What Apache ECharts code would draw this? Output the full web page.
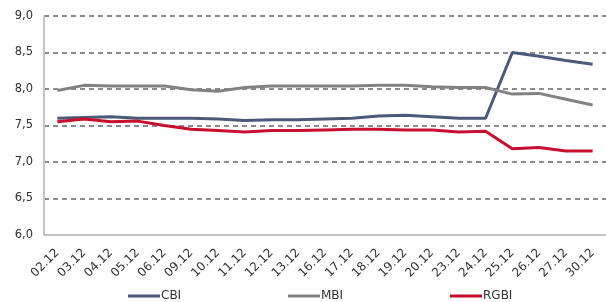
<!DOCTYPE html>
<html>
<head>
<meta charset="utf-8">
<script src="https://cdn.jsdelivr.net/npm/echarts@6/dist/echarts.min.js"></script>
<style>
html, body { margin: 0; padding: 0; background: #fff; }
#chart { width: 606px; height: 302px; }
</style>
</head>
<body>
<div id="chart"></div>
<script>
// даты
var days = ['02.12', '03.12', '04.12', '05.12', '06.12', '09.12', '10.12', '11.12', '12.12', '13.12',
    '16.12', '17.12', '18.12', '19.12', '20.12', '23.12', '24.12', '25.12', '26.12', '27.12', '30.12'];

var cbi = [7.60, 7.61, 7.62, 7.60, 7.60, 7.60, 7.59, 7.57, 7.58, 7.58,
    7.59, 7.60, 7.63, 7.64, 7.62, 7.60, 7.60, 8.50, 8.45, 8.39, 8.34];
var mbi = [7.98, 8.05, 8.04, 8.04, 8.04, 7.99, 7.97, 8.02, 8.04, 8.04,
    8.04, 8.04, 8.05, 8.05, 8.03, 8.02, 8.02, 7.93, 7.94, 7.86, 7.78];
var rgbi = [7.55, 7.59, 7.55, 7.56, 7.50, 7.45, 7.43, 7.41, 7.43, 7.43,
    7.44, 7.45, 7.45, 7.44, 7.44, 7.41, 7.42, 7.18, 7.20, 7.15, 7.15];

var names = ['CBI', 'MBI', 'RGBI'];
var colors = ['#4b5a78', '#828282', '#c8102e'];
var legendLeft = [128, 288, 450];

var font = 'Verdana, "DejaVu Sans", sans-serif';

function makeSeries(name, data, color) {
    return {
        name: name,
        type: 'line',
        data: data,
        symbol: 'none',
        lineStyle: { width: 3, color: color },
        itemStyle: { color: color }
    };
}

// отдельная легенда для каждой линии
var legends = [];
for (var i = 0; i < names.length; i++) {
    legends.push({
        data: [names[i]],
        left: legendLeft[i],
        bottom: 0,
        padding: 0,
        icon: 'rect',
        itemWidth: 32,
        itemHeight: 3,
        textStyle: { fontFamily: font, fontSize: 12, color: '#333', padding: [0, 0, 0, -4] }
    });
}

var option = {
    animation: false,
    grid: { left: 44, top: 16, bottom: 67, width: 571 },
    legend: legends,
    xAxis: {
        type: 'category',
        data: days,
        boundaryGap: true,
        axisLine: { lineStyle: { color: '#c4c4c4', width: 2 } },
        axisTick: { show: false },
        axisLabel: { rotate: 45, fontFamily: font, fontSize: 12, color: '#333', margin: 16, interval: 0 }
    },
    yAxis: {
        type: 'value',
        min: 6,
        max: 9,
        interval: 0.5,
        axisLine: { show: true, lineStyle: { color: '#c4c4c4', width: 2 } },
        axisTick: { show: false },
        axisLabel: {
            fontFamily: font, fontSize: 11.5, color: '#333', margin: 11,
            formatter: function (v) { return v.toFixed(1).replace('.', ','); }
        },
        splitLine: { lineStyle: { type: [5, 4], color: '#666', width: 1.5 } }
    },
    series: [
        makeSeries('CBI', cbi, colors[0]),
        makeSeries('MBI', mbi, colors[1]),
        makeSeries('RGBI', rgbi, colors[2])
    ]
};

var chart = echarts.init(document.getElementById('chart'));
chart.setOption(option);
</script>
</body>
</html>
